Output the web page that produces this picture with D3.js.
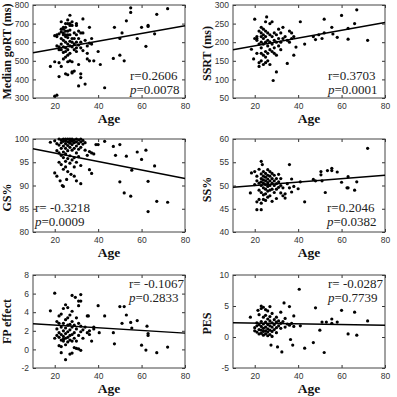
<!DOCTYPE html>
<html>
<head>
<meta charset="utf-8">
<script src="https://cdn.jsdelivr.net/npm/d3@7"></script>
<style>
  body { margin: 0; background: #fff; }
  .tick text { font-family: "Liberation Sans", Arial, sans-serif; font-size: 8.5px; fill: #333; }
  .tick line { stroke: #333; }
  .lab { font-family: "Liberation Serif", "Times New Roman", serif; font-weight: bold; fill: #111; }
  .stat { font-family: "Liberation Serif", "Times New Roman", serif; font-size: 13px; fill: #222; }
</style>
</head>
<body>
<div id="chart"></div>
<script>
// age ticks shared by every panel
var ageTicks = [20, 40, 60, 80];

// [age, value] pairs
var goRT = [
  [18,470],[20,310],[21,315],[22,415],[23,710],[25,430],[26,425],[27,745],[28,440],[29,445],[28,435],
  [30,700],[31,365],[32,410],[32,430],[33,725],[34,375],[35,510],[36,500],[36,680],[37,620],[37,590],
  [38,500],[40,550],[41,480],[43,355],[47.5,680],[47,513],[50,530],[50,620],[51,650],[52,500],[53,715],
  [55,785],[55,760],[58,620],[60,680],[62,578],[63,685],[63,690],[66,645],[67,750],[72,780],
  [20,635],[21,640],[21,630],[22,645],[22,575],[22,560],[21,580],[20,495],[22,490],[23,470],[23,670],
  [23,655],[23,620],[23,590],[23,560],[24,680],[24,670],[24,650],[24,640],[24,610],[24,575],[24,545],
  [24,510],[25,700],[25,680],[25,660],[25,640],[25,630],[25,600],[25,570],[25,550],[25,520],[26,720],
  [26,700],[26,660],[26,640],[26,625],[26,590],[26,560],[26,530],[26,495],[27,700],[27,690],[27,665],
  [27,640],[27,605],[27,580],[27,540],[27,500],[28,710],[28,690],[28,620],[28,600],[28,575],[28,495],
  [29,650],[29,620],[29,590],[29,560],[30,690],[30,640],[30,600],[30,570],[30,550],[31,660],[31,620],
  [31,585],[31,480],[32,650],[32,600],[32,570],[33,650],[33,555],[34,610],[35,540],[35,580],[36,595]
];
var ssrt = [
  [20,262],[19.5,155],[18.5,181],[21,210],[25.5,268],[28.5,97],[30,120],[35,143],[41,255],[38,165],
  [39,187],[43,195],[47,215],[48,207],[49.5,220],[51,210],[52,262],[52,225],[55.5,240],[56,222],[58,213],
  [60,272],[63,208],[63,237],[66,250],[67,287],[72,205],
  [20,210],[21,205],[21,170],[21,215],[22,195],[22,230],[22,145],[22,135],[23,240],[23,225],[23,215],
  [23,200],[23,185],[23,170],[23,150],[24,235],[24,220],[24,210],[24,195],[24,165],[24,140],[25,255],
  [25,230],[25,215],[25,200],[25,175],[25,160],[25,145],[26,225],[26,205],[26,190],[26,170],[26,150],
  [27,250],[27,220],[27,200],[27,180],[27,140],[28,255],[28,215],[28,195],[28,175],[29,225],[29,205],
  [29,185],[29,170],[30,220],[30,200],[30,165],[31,235],[31,210],[31,190],[32,225],[32,200],[32,180],
  [33,240],[33,210],[34,215],[35,205],[36,230],[36,200],[37,225],[37,210],[38,215]
];
var gsPct = [
  [20,92.7],[21,92],[22.5,91],[23.5,90],[24,89.8],[25.5,91.3],[27.5,92.4],[29,92],[30,91],[32,90.4],
  [36,93.4],[37,92.6],[47,98.4],[48,96.5],[50,98.8],[50,90.8],[52,88.4],[53,96.3],[55,87.7],[55.5,93.3],
  [58,97.2],[60,95.6],[62,97.6],[63,90.9],[63,84.4],[66,94.2],[67,86.6],[72,86.4],[43,99.5],[40,98.8],[39,98.8],
  [18,99.3],[20,99.6],[21,99],[21,97.5],[22,100],[22,98.7],[22,97],[22,95],[23,99.8],[23,99.2],[23,98],
  [23,96.5],[23,94.5],[24,100],[24,99.5],[24,98.5],[24,97.2],[24,96],[24,93.5],[25,100],[25,99.6],[25,99],
  [25,98],[25,96.8],[25,95.2],[25,94],[26,100],[26,99.4],[26,98.6],[26,97.5],[26,95.8],[26,93],[27,100],
  [27,99.7],[27,99.1],[27,98.2],[27,96.4],[27,94.8],[28,100],[28,99.5],[28,98.8],[28,97.6],[28,95.5],
  [29,99.8],[29,99.2],[29,98],[29,96],[29,94],[30,100],[30,99.4],[30,98.5],[30,97],[30,95],[31,99.8],
  [31,99],[31,97.8],[31,96.2],[32,100],[32,99.4],[32,98.2],[32,94.3],[33,99.7],[33,98.9],[34,99.2],
  [34,97.6],[35,96.5],[36,97.3],[37,97],[38,96.8]
];
var ssPct = [
  [72,58],[18,48.4],[18.5,52.7],[20,53],[21,44.8],[23,44.8],[23,55.2],[23.5,54.5],[36,54.5],[43,46.5],
  [47,51.3],[48,51],[50.5,53],[50.5,52.3],[51,51],[52.5,48.5],[53.5,53.2],[55.5,53.7],[55.5,53.2],
  [58,52.9],[60,50.7],[62.5,49.5],[63,49.5],[63,51.9],[66,49],[67,50.8],
  [20,50.2],[21,52],[21,46.5],[21,51],[22,50.5],[22,49],[22,47],[22,53.5],[23,52.5],[23,51.5],[23,50.8],
  [23,50],[23,48.5],[23,46.2],[24,53],[24,52],[24,51.2],[24,50.5],[24,49.5],[24,48],[24,47],[25,52.6],
  [25,51.8],[25,51],[25,50.2],[25,49.2],[25,48.2],[25,46.8],[26,53.4],[26,52.2],[26,51.4],[26,50.6],
  [26,49.8],[26,48.8],[26,47.5],[27,53],[27,52],[27,51],[27,50],[27,49],[27,47.8],[28,52.6],[28,51.5],
  [28,50.5],[28,49.2],[28,46.6],[29,52.2],[29,51],[29,50],[29,48.5],[30,51.5],[30,50.4],[30,49.2],
  [30,47.2],[31,52.4],[31,50.8],[31,49.6],[32,51.5],[32,50],[32,48.4],[33,49.5],[33,47.8],[34,48.2],
  [34,47.3],[35,50.4],[36,49.5],[37,51.4],[37,48.6],[38,49.8],[40,49.3],[41,50.8]
];
var fpEffect = [
  [18,4.15],[20,6.05],[22,3.6],[22,2.8],[23,-0.35],[25,-1.1],[28,5.8],[29.5,5.6],[31,4.7],[31,5.2],
  [32,5.9],[32,5.2],[35,3.6],[35.5,3.6],[40,4.7],[40.5,1.8],[43,3.6],[47,1.8],[47.5,0.6],[50,4.6],
  [52,4.6],[53,3.7],[51,2.8],[55,2.9],[55.5,2.3],[58,3.1],[60,0.45],[62,-0.07],[62.5,2.5],[63,1.5],
  [67,-0.35],[72,0.25],[63,1.7],
  [20,1.2],[21,1.5],[21,2.2],[21,3],[22,1.3],[22,1.8],[22,0.4],[23,1],[23,1.6],[23,2.4],[23,3.8],
  [23,0.3],[24,1.1],[24,1.4],[24,2],[24,2.8],[24,4.4],[24,0.9],[25,1.2],[25,1.7],[25,2.3],[25,3.2],
  [25,4.8],[25,0.5],[26,0.8],[26,1.3],[26,1.9],[26,2.6],[26,3.4],[26,4.5],[27,1],[27,1.5],[27,2.1],
  [27,2.7],[27,3.7],[27,-0.5],[28,0.9],[28,1.6],[28,2.4],[28,3],[28,4.1],[28,-0.4],[29,1.2],[29,1.8],
  [29,2.6],[29,0.2],[30,0.9],[30,2.2],[30,3.4],[30,0.1],[31,1.5],[31,2.8],[31,0.05],[32,1.9],[32,2.5],
  [32,-0.1],[33,2.1],[33,1.2],[34,2.4],[35,1.8],[36,1.6],[36,2],[37,0.9],[38,2.4],[38,2.2]
];
var pes = [
  [18,3.2],[21.5,4.3],[23,5],[40.5,7.7],[33.5,5.5],[36,4.9],[38,3.4],[36.5,-0.4],[37.5,-1.3],
  [32.5,-2.4],[30.5,-1.6],[27.5,-1.3],[43,-1.8],[47,-0.9],[48,4.7],[50,1.1],[52,-2.5],[51,2.4],
  [53,2.4],[55.5,2.9],[55.5,2.2],[58,2.4],[60,4.3],[63,0.5],[66,4],[67,0.3],[72,2.6],[41,1.8],
  [20,1],[20,1.5],[21,0.8],[21,1.8],[21,2.3],[22,0.5],[22,1.2],[22,2],[22,3.6],[23,0.6],[23,1.1],
  [23,1.7],[23,2.5],[23,4.6],[24,0.3],[24,0.9],[24,1.4],[24,2.1],[24,3.2],[24,4.8],[25,0.5],[25,1],
  [25,1.6],[25,2.4],[25,3.5],[25,4.4],[26,0.2],[26,0.8],[26,1.3],[26,2],[26,2.9],[26,4.2],[27,0.4],
  [27,1.1],[27,1.8],[27,2.6],[27,3.3],[27,4.9],[28,0.1],[28,0.9],[28,1.6],[28,2.3],[28,3.8],[29,1.2],
  [29,2],[29,2.8],[30,0.7],[30,1.5],[30,2.4],[30,3.2],[31,1.8],[31,2.6],[32,1.4],[32,2.2],[32,4],
  [33,2.5],[34,1.6],[34,3],[35,2.1],[36,1.9],[37,2.2],[38,1.7]
];

// regression line values at age 10 and age 80
var fitLines = [[543, 688], [180, 253], [97.9, 91.5], [49.6, 52.2], [2.75, 1.75], [2.28, 1.9]];
var rValues = ["r=0.2606", "r=0.3703", "r= -0.3218", "r=0.2046", "r= -0.1067", "r= -0.0287"];
var pValues = ["=0.0078", "=0.0001", "=0.0009", "=0.0382", "=0.2833", "=0.7739"];
var yLabels = ["Median goRT (ms)", "SSRT (ms)", "GS%", "SS%", "FP effect", "PES"];
var yDomains = [[300, 800], [50, 300], [80, 100], [40, 60], [-2, 8], [-5, 10]];
var yTicks = [
  [300, 400, 500, 600, 700, 800],
  [50, 100, 150, 200, 250, 300],
  [80, 85, 90, 95, 100],
  [40, 45, 50, 55, 60],
  [-2, 0, 2, 4, 6, 8],
  [-5, 0, 5, 10]
];
var series = [goRT, ssrt, gsPct, ssPct, fpEffect, pes];

var W = 397, H = 397;
var colX = [33, 233], rowY = [5, 139, 275];
var pw = 152, ph = 93;
// where the r / p text goes, relative to the box
var statPos = [[97, 75], [95, 75], [2, 73], [94, 73], [96, 13], [95, 13]];
// y label nudges down from box centre
var labShift = [0, 2, 12, 4, 0, 2];

var svg = d3.select("#chart").append("svg")
  .attr("width", W)
  .attr("height", H);

series.forEach(function(data, i) {
  var col = i % 2, row = Math.floor(i / 2);
  var g = svg.append("g")
    .attr("transform", "translate(" + colX[col] + "," + rowY[row] + ")");

  var x = d3.scaleLinear().domain([10, 80]).range([0, pw]);
  var y = d3.scaleLinear().domain(yDomains[i]).range([ph, 0]);

  g.append("g")
    .attr("transform", "translate(0," + ph + ")")
    .call(d3.axisBottom(x).tickValues(ageTicks).tickSize(-3).tickPadding(5).tickFormat(d3.format("d")))
    .call(function(a) { a.select(".domain").remove(); });
  g.append("g")
    .call(d3.axisTop(x).tickValues(ageTicks).tickSize(-3).tickFormat(""))
    .call(function(a) { a.select(".domain").remove(); });
  g.append("g")
    .call(d3.axisLeft(y).tickValues(yTicks[i]).tickSize(-3).tickPadding(4).tickFormat(function(d) { return String(d); }))
    .call(function(a) { a.select(".domain").remove(); });
  g.append("g")
    .attr("transform", "translate(" + pw + ",0)")
    .call(d3.axisRight(y).tickValues(yTicks[i]).tickSize(-3).tickFormat(""))
    .call(function(a) { a.select(".domain").remove(); });

  g.append("rect")
    .attr("width", pw)
    .attr("height", ph)
    .attr("fill", "none")
    .attr("stroke", "#444")
    .attr("stroke-width", 1);

  g.selectAll("circle")
    .data(data)
    .enter()
    .append("circle")
    .attr("cx", function(d) { return x(d[0]); })
    .attr("cy", function(d) { return y(d[1]); })
    .attr("r", 1.6)
    .attr("fill", "#000");

  var line = d3.line()
    .x(function(d) { return x(d[0]); })
    .y(function(d) { return y(d[1]); });
  g.append("path")
    .datum([[10, fitLines[i][0]], [80, fitLines[i][1]]])
    .attr("d", line)
    .attr("fill", "none")
    .attr("stroke", "#000")
    .attr("stroke-width", 1.5);

  g.append("text")
    .attr("class", "stat")
    .attr("x", statPos[i][0])
    .attr("y", statPos[i][1])
    .text(rValues[i]);
  var pt = g.append("text")
    .attr("class", "stat")
    .attr("x", statPos[i][0])
    .attr("y", statPos[i][1] + 13.5);
  pt.append("tspan").attr("font-style", "italic").text("p");
  pt.append("tspan").text(pValues[i]);

  g.append("text")
    .attr("class", "lab")
    .attr("x", pw / 2)
    .attr("y", ph + 25)
    .attr("text-anchor", "middle")
    .attr("font-size", 13.5)
    .text("Age");

  g.append("text")
    .attr("class", "lab")
    .attr("transform", "translate(-22," + (ph / 2 + labShift[i]) + ") rotate(-90)")
    .attr("text-anchor", "middle")
    .attr("font-size", 12)
    .text(yLabels[i]);
});
</script>
</body>
</html>
